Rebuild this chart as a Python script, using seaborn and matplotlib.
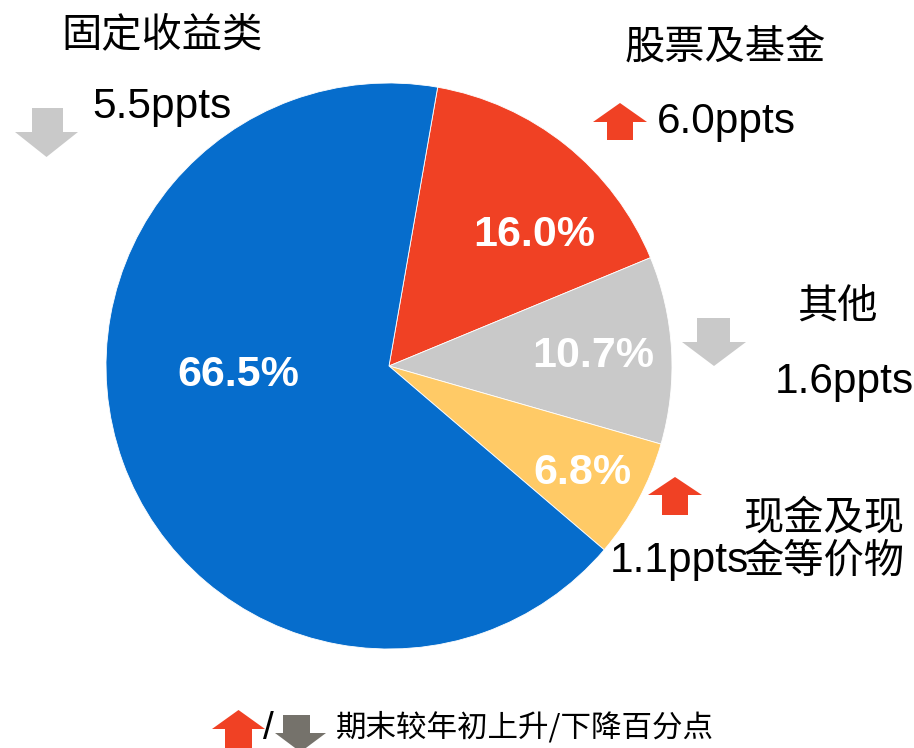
import matplotlib
matplotlib.use("Agg")
import matplotlib.pyplot as plt
from matplotlib.patches import Polygon
import seaborn as sns

sns.set_theme(style="white")
plt.rcParams["font.family"] = ["Noto Sans CJK SC", "DejaVu Sans"]

# Asset allocation at period end (%), and change versus start of year (ppts)
categories = ["股票及基金", "其他", "现金及现\n金等价物", "固定收益类"]
shares = [16.0, 10.7, 6.8, 66.5]
changes = [6.0, -1.6, 1.1, -5.5]
colors = ["#F04124", "#C9C9C9", "#FFCA66", "#066DCC"]
legend_text = "期末较年初上升/下降百分点"

UP_COLOR = "#F04124"
DOWN_COLOR = "#C9C9C9"
LEGEND_DOWN_COLOR = "#75726B"

W, H = 914, 748
fig = plt.figure(figsize=(W / 100, H / 100), dpi=100)
ax = fig.add_axes([0, 0, 1, 1])
ax.set_xlim(0, W)
ax.set_ylim(0, H)
ax.set_aspect("equal")
ax.axis("off")


def Y(py):
    return H - py


# pie
cx, cy, r = 389, Y(366), 283
ax.pie(shares, colors=colors, startangle=80.1, counterclock=False,
       center=(cx, cy), radius=r, frame=True,
       wedgeprops=dict(edgecolor="white", linewidth=0.6))
ax.set_xlim(0, W)
ax.set_ylim(0, H)
ax.axis("off")

num_font = "Liberation Sans"

# percentage labels inside slices
pct_pos = [(534, 235), (593, 356), (582, 473), (238, 375)]
for v, (px, py) in zip(shares, pct_pos):
    ax.text(px, Y(py), f"{v:.1f}%", color="white", fontsize=31,
            fontweight="bold", family=num_font, ha="center", va="center")


def block_arrow(x0, x1, tip_y, base_y, end_y, sx0, sx1, color):
    """Arrow with head from tip_y to base_y and a shaft to end_y (pixel y)."""
    tip_x = (x0 + x1) / 2
    pts = [(tip_x, tip_y), (x1, base_y), (sx1, base_y), (sx1, end_y),
           (sx0, end_y), (sx0, base_y), (x0, base_y)]
    ax.add_patch(Polygon([(x, Y(y)) for x, y in pts], closed=True,
                         facecolor=color, edgecolor="none", clip_on=False))


def change_arrow(val, box):
    x0, x1, sx0, sx1, top, mid, bot = box
    if val >= 0:
        block_arrow(x0, x1, top, mid, bot, sx0, sx1, UP_COLOR)
    else:
        block_arrow(x0, x1, bot, bot - (mid - top), top, sx0, sx1, DOWN_COLOR)


# category names
name_pos = [(725, 47), (837, 307), (824, 540), (162, 35)]
for name, (px, py) in zip(categories, name_pos):
    ax.text(px, Y(py), name, fontsize=29, ha="center", va="center",
            color="black", linespacing=1.05)

# change values and arrows
chg_pos = [(657, 133), (775, 393), (610, 572), (92, 118)]
arrow_boxes = [
    (593, 647, 607, 633, 103, 122, 140),
    (682, 746, 697, 730, 318, 342, 366),
    (648, 702, 662, 688, 477, 495, 515),
    (15, 78, 32, 63, 108, 133, 157),
]
for v, (px, py), box in zip(changes, chg_pos, arrow_boxes):
    ax.text(px, Y(py), f"{abs(v):.1f}ppts", fontsize=30.5, family=num_font,
            ha="left", va="baseline", color="black")
    change_arrow(v, box)

# legend row at the bottom
block_arrow(212, 265, 710, 729, 760, 225, 252, UP_COLOR)
ax.text(268, Y(729), "/", fontsize=28, family=num_font, ha="center",
        va="center", color="black")
block_arrow(275, 326, 752, 733, 715, 283, 310, LEGEND_DOWN_COLOR)
ax.text(336, Y(728), legend_text, fontsize=22, ha="left", va="center",
        color="black")

fig.savefig("out.png", dpi=100)
